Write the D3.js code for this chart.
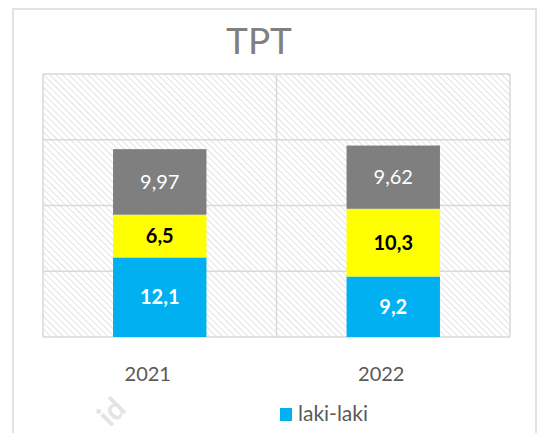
<!DOCTYPE html>
<html lang="en">
<head>
<meta charset="UTF-8">
<title>TPT</title>
<style>
  body { margin: 0; background: #fff; }
  svg text { font-family: Lato, 'Open Sans', Arial, sans-serif; }
</style>
</head>
<body>
<div id="chart"></div>
<script src="https://d3js.org/d3.v7.min.js"></script>
<script>
  // data
  var years = ["2021", "2022"];
  var seriesNames = ["laki-laki", "perempuan", "total"];
  var lakiLaki = [12.1, 9.2];
  var perempuan = [6.5, 10.3];
  var total = [9.97, 9.62];
  var yTicks = [0, 10, 20, 30, 40];

  var colors = ["#00b0f0", "#ffff00", "#7f7f7f"];
  var labelColors = ["#ffffff", "#000000", "#ffffff"];
  var labelWeights = ["bold", "bold", "normal"];

  var W = 546, H = 433;
  var plot = {left: 43, top: 74, right: 510, bottom: 337};

  var svg = d3.select("#chart").append("svg")
    .attr("width", W).attr("height", H);

  // hatch pattern for plot background
  var defs = svg.append("defs");
  var pat = defs.append("pattern")
    .attr("id", "hatch")
    .attr("patternUnits", "userSpaceOnUse")
    .attr("width", 4.5).attr("height", 4.5)
    .attr("patternTransform", "rotate(-45)");
  pat.append("rect").attr("width", 4.5).attr("height", 4.5).attr("fill", "#fff");
  pat.append("line")
    .attr("x1", 0).attr("y1", 0).attr("x2", 0).attr("y2", 4.5)
    .attr("stroke", "#dadada").attr("stroke-width", 1.5);

  // chart border
  svg.append("rect")
    .attr("x", 13).attr("y", 9)
    .attr("width", 523).attr("height", 440)
    .attr("fill", "#fff")
    .attr("stroke", "#d9d9d9").attr("stroke-width", 1.5);

  var x = d3.scaleBand()
    .domain(years)
    .range([plot.left, plot.right])
    .paddingInner(0)
    .paddingOuter(0);

  var y = d3.scaleLinear()
    .domain([0, 40])
    .range([plot.bottom, plot.top]);

  // plot background
  svg.append("rect")
    .attr("x", plot.left).attr("y", plot.top)
    .attr("width", plot.right - plot.left)
    .attr("height", plot.bottom - plot.top)
    .attr("fill", "url(#hatch)");

  // gridlines
  svg.append("g")
    .selectAll("line")
    .data(yTicks)
    .join("line")
    .attr("x1", plot.left).attr("x2", plot.right)
    .attr("y1", d => y(d)).attr("y2", d => y(d))
    .attr("stroke", "#d9d9d9").attr("stroke-width", 1.5);

  // vertical lines at category boundaries
  var bounds = years.map(d => x(d)).concat([x.range()[1]]);
  svg.append("g")
    .selectAll("line")
    .data(bounds)
    .join("line")
    .attr("x1", d => d).attr("x2", d => d)
    .attr("y1", plot.top).attr("y2", plot.bottom)
    .attr("stroke", "#d9d9d9").attr("stroke-width", 1.5);

  // stacked bars
  var table = years.map((yr, i) => ({
    year: yr, "laki-laki": lakiLaki[i], perempuan: perempuan[i], total: total[i]
  }));
  var stack = d3.stack().keys(seriesNames)(table);

  var barW = x.bandwidth() * 0.4;

  var groups = svg.append("g")
    .selectAll("g")
    .data(stack)
    .join("g")
    .attr("fill", (d, i) => colors[i]);

  groups.selectAll("rect")
    .data(d => d)
    .join("rect")
    .attr("x", d => x(d.data.year) + x.bandwidth() / 2 - barW / 2)
    .attr("width", barW)
    .attr("y", d => y(d[1]))
    .attr("height", d => y(d[0]) - y(d[1]));

  // data labels
  stack.forEach(function(s, i) {
    svg.append("g")
      .selectAll("text")
      .data(s)
      .join("text")
      .attr("x", d => x(d.data.year) + x.bandwidth() / 2)
      .attr("y", d => (y(d[0]) + y(d[1])) / 2)
      .attr("dy", "0.36em")
      .attr("text-anchor", "middle")
      .attr("font-size", 20)
      .attr("font-weight", labelWeights[i])
      .attr("fill", labelColors[i])
      .text(d => String(d.data[s.key]).replace(".", ","));
  });

  // x axis labels
  var xAxis = svg.append("g")
    .attr("transform", "translate(0," + plot.bottom + ")")
    .call(d3.axisBottom(x).tickSize(0).tickPadding(30));
  xAxis.select(".domain").remove();
  xAxis.selectAll("text")
    .attr("font-size", 20)
    .attr("fill", "#595959")
    .attr("dx", -12)
    .style("font-family", "Lato, 'Open Sans', Arial, sans-serif");

  // title
  svg.append("text")
    .attr("x", 259).attr("y", 54)
    .attr("text-anchor", "middle")
    .attr("font-size", 37)
    .attr("fill", "#808080")
    .text("TPT");

  // legend (only first entry visible)
  var legend = svg.append("g").attr("transform", "translate(280,408)");
  legend.append("rect")
    .attr("width", 12).attr("height", 13)
    .attr("fill", colors[0]);
  legend.append("text")
    .attr("x", 18).attr("y", 13)
    .attr("font-size", 21)
    .attr("fill", "#595959")
    .text(seriesNames[0]);

  // faint watermark fragment
  svg.append("text")
    .attr("transform", "translate(110,428) rotate(-45)")
    .attr("font-size", 30)
    .attr("font-weight", "bold")
    .attr("fill", "#e4e4e4")
    .text("id");
</script>
</body>
</html>
